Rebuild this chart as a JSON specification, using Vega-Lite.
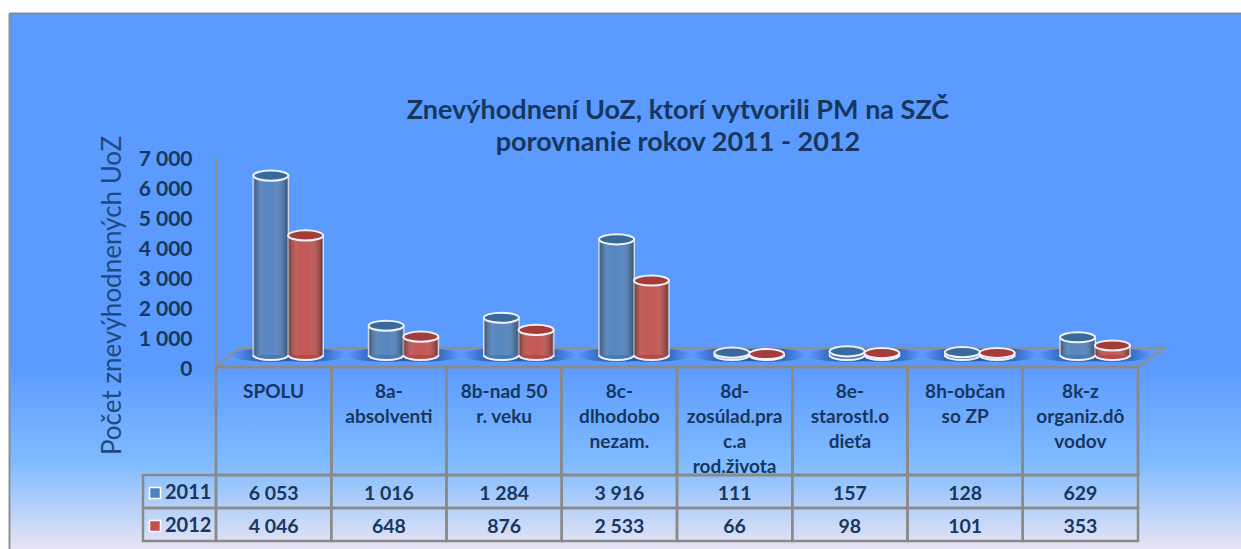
{
"$schema":"https://vega.github.io/schema/vega-lite/v6.json",
"autosize":{"type":"none"},
"padding":{"left":9,"top":13,"right":0,"bottom":0},
"width":1232,"height":536,
"background":"#ffffff",
"config":{
 "locale":{"number":{"decimal":",","thousands":" ","grouping":[3],"currency":["",""]}},
 "view":{"stroke":null,"fill":{"gradient":"linear","x1":0,"y1":0,"x2":0,"y2":1,"stops":[{"offset":0,"color":"#5b9bff"},{"offset":0.66,"color":"#5b9bff"},{"offset":0.84,"color":"#80bbff"},{"offset":1,"color":"#e8e4f4"}]}}
},
"title":{"text":["Znevýhodnení UoZ, ktorí vytvorili PM na SZČ","porovnanie rokov 2011  - 2012"],"font":"Lato","fontSize":27,"fontWeight":"bold","color":"#17375e","anchor":"middle","dx":53,"dy":144,"lineHeight":32,"offset":0},
"datasets":{
"rows":[
{"category":"SPOLU","year":"2011","value":6053},{"category":"SPOLU","year":"2012","value":4046},
{"category":"8a-\nabsolventi","year":"2011","value":1016},{"category":"8a-\nabsolventi","year":"2012","value":648},
{"category":"8b-nad 50\nr. veku","year":"2011","value":1284},{"category":"8b-nad 50\nr. veku","year":"2012","value":876},
{"category":"8c-\ndlhodobo\nnezam.","year":"2011","value":3916},{"category":"8c-\ndlhodobo\nnezam.","year":"2012","value":2533},
{"category":"8d-\nzosúlad.pra\nc.a\nrod.života","year":"2011","value":111},{"category":"8d-\nzosúlad.pra\nc.a\nrod.života","year":"2012","value":66},
{"category":"8e-\nstarostl.o\ndieťa","year":"2011","value":157},{"category":"8e-\nstarostl.o\ndieťa","year":"2012","value":98},
{"category":"8h-občan\nso ZP","year":"2011","value":128},{"category":"8h-občan\nso ZP","year":"2012","value":101},
{"category":"8k-z\norganiz.dô\nvodov","year":"2011","value":629},{"category":"8k-z\norganiz.dô\nvodov","year":"2012","value":353}
],
"floor":[{"pos":0,"back":0,"front":0},{"pos":0.208,"back":633,"front":0},{"pos":8,"back":633,"front":0},{"pos":8.234,"back":633,"front":633}],
"years":[{"year":"2011"},{"year":"2012"}]
},
"layer":[
{"data":{"name":"years"},
 "mark":{"type":"point","opacity":0},
 "encoding":{
  "x":{"datum":0,"type":"quantitative","scale":{"domain":[0,1],"range":[0,1232]},"axis":{"orient":"top","title":null,"labels":false,"ticks":false,"grid":false,"domainColor":"#7a8cae","domainWidth":2}},
  "y":{"datum":0,"type":"quantitative","scale":{"domain":[0,1],"range":[536,0]},"axis":{"orient":"left","title":null,"labels":false,"ticks":false,"grid":false,"domainColor":"#8a8f98","domainWidth":2}}}},
{"data":{"name":"floor"},
 "mark":{"type":"area","fill":"#5b9bff","stroke":"#8a8f98","strokeWidth":2.5},
 "encoding":{
  "x":{"field":"pos","type":"quantitative","scale":{"domain":[0,8],"range":[207,1129]},"axis":null},
  "y":{"field":"back","type":"quantitative","scale":{"domain":[0,7000],"range":[354,144]},
   "axis":{"title":"Počet znevýhodnených UoZ","orient":"left","offset":-207,"values":[0,1000,2000,3000,4000,5000,6000,7000],"format":",d","grid":false,"ticks":false,"labelPadding":24,"labelOffset":2,"labelFont":"Lato","labelFontSize":21,"labelFontWeight":"bold","labelColor":"#17375e","domainColor":"#8a8f98","domainWidth":3,"titleFont":"Lato","titleFontSize":26,"titleFontWeight":"normal","titleColor":"#1f4a80","titleX":-91,"titleY":282}},
  "y2":{"field":"front"}}},
{"data":{"name":"rows"},
 "mark":{"type":"point","filled":true,"shape":"M-1,0A1,0.17 0 1,1 1,0A1,0.17 0 1,1 -1,0Z","size":6400,"opacity":1,"yOffset":-1,"fill":{"gradient":"linear","x1":0,"y1":0,"x2":1,"y2":0,"stops":[{"offset":0,"color":"rgba(35,80,165,0)"},{"offset":0.3,"color":"rgba(35,80,165,0.7)"},{"offset":0.7,"color":"rgba(35,80,165,0.7)"},{"offset":1,"color":"rgba(35,80,165,0)"}]}},
 "encoding":{
  "x":{"field":"category","type":"nominal","sort":null,"scale":{"type":"band","range":[207,1129],"paddingInner":0,"paddingOuter":0},"axis":null},
  "xOffset":{"field":"year","type":"nominal","scale":{"type":"band","range":[37.5,107],"paddingInner":0,"paddingOuter":0}},
  "y":{"datum":0,"type":"quantitative","scale":{"domain":[0,7000],"range":[343,134.4]},"axis":null}}},
{"data":{"name":"rows"},
 "mark":{"type":"bar","stroke":"#e6edf5","strokeWidth":1.8},
 "encoding":{
  "x":{"field":"category","type":"nominal","sort":null,"scale":{"range":[207,1129],"paddingInner":0,"paddingOuter":0},"axis":null},
  "xOffset":{"field":"year","type":"nominal","scale":{"range":[37.5,107],"paddingInner":0,"paddingOuter":0}},
  "y":{"field":"value","type":"quantitative","scale":{"domain":[0,7000],"range":[343,134.4]},"axis":null},
  "color":{"field":"year","type":"nominal","scale":{"domain":["2011","2012"],"range":["#4f81bd","#c0504d"]},
   "legend":{"title":null,"orient":"none","legendX":136,"legendY":470,"symbolType":"square","symbolSize":120,"symbolStrokeColor":"#ffffff","symbolStrokeWidth":1.5,"labelFont":"Lato","labelFontSize":20,"labelFontWeight":"bold","labelColor":"#17375e","rowPadding":13,"labelOffset":0}}}},
{"data":{"name":"rows"},
 "mark":{"type":"bar","fill":{"gradient":"linear","x1":0,"y1":0,"x2":1,"y2":0,"stops":[{"offset":0,"color":"rgba(0,0,0,0.4)"},{"offset":0.3,"color":"rgba(255,255,255,0.06)"},{"offset":0.6,"color":"rgba(255,255,255,0.06)"},{"offset":1,"color":"rgba(0,0,0,0.4)"}]}},
 "encoding":{
  "x":{"field":"category","type":"nominal","sort":null,"scale":{"range":[207,1129],"paddingInner":0,"paddingOuter":0},"axis":null},
  "xOffset":{"field":"year","type":"nominal","scale":{"range":[37.5,107],"paddingInner":0,"paddingOuter":0}},
  "y":{"field":"value","type":"quantitative","scale":{"domain":[0,7000],"range":[343,134.4]},"axis":null}}},
{"data":{"name":"rows"},
 "mark":{"type":"point","filled":true,"shape":"M-1,0A1,0.29 0 0,0 1,0","size":1225,"stroke":"#eef3f8","strokeWidth":2,"opacity":1,"yOffset":-1},
 "encoding":{
  "x":{"field":"category","type":"nominal","sort":null,"scale":{"type":"band","range":[207,1129],"paddingInner":0,"paddingOuter":0},"axis":null},
  "xOffset":{"field":"year","type":"nominal","scale":{"type":"band","range":[37.5,107],"paddingInner":0,"paddingOuter":0}},
  "y":{"datum":0,"type":"quantitative","scale":{"domain":[0,7000],"range":[343,134.4]},"axis":null},
  "color":{"field":"year","type":"nominal","scale":{"domain":["2011","2012"],"range":["#4a7ab3","#b64a47"]},"legend":null}}},
{"data":{"name":"rows"},
 "mark":{"type":"point","filled":true,"shape":"M-1,0A1,0.29 0 1,1 1,0A1,0.29 0 1,1 -1,0Z","size":1225,"stroke":"#eef3f8","strokeWidth":2,"opacity":1},
 "encoding":{
  "x":{"field":"category","type":"nominal","sort":null,"scale":{"type":"band","range":[207,1129],"paddingInner":0,"paddingOuter":0},"axis":null},
  "xOffset":{"field":"year","type":"nominal","scale":{"type":"band","range":[37.5,107],"paddingInner":0,"paddingOuter":0}},
  "y":{"field":"value","type":"quantitative","scale":{"domain":[0,7000],"range":[343,134.4]},"axis":null},
  "color":{"field":"year","type":"nominal","scale":{"domain":["2011","2012"],"range":["#3a6a9c","#a53c39"]},"legend":null}}},
{"data":{"name":"rows"},
 "mark":{"type":"rect","fill":"transparent","stroke":"#8a8a8a","strokeWidth":2.5},
 "encoding":{
  "x":{"field":"category","type":"nominal","sort":null,"scale":{"range":[207,1129],"paddingInner":0,"paddingOuter":0},
   "axis":{"title":null,"orient":"bottom","offset":-182,"domain":false,"ticks":false,"labelExpr":"split(datum.value,'\\n')","labelAngle":0,"labelAlign":"center","labelBaseline":"top","labelPadding":15,"labelOverlap":false,"labelBound":false,"labelFlush":false,"labelFont":"Lato","labelFontSize":19,"labelFontWeight":"bold","labelColor":"#17375e","labelLineHeight":25}},
  "y":{"datum":"kategória","type":"nominal","scale":{"domain":["kategória"],"range":[354,462],"paddingInner":0,"paddingOuter":0},"axis":null}}},
{"data":{"name":"rows"},
 "mark":{"type":"rect","fill":"transparent","stroke":"#8a8a8a","strokeWidth":2.5},
 "encoding":{
  "x":{"field":"category","type":"nominal","sort":null,"scale":{"range":[207,1129],"paddingInner":0,"paddingOuter":0},"axis":null},
  "y":{"field":"year","type":"nominal","scale":{"domain":["2011","2012"],"range":[462,528],"paddingInner":0,"paddingOuter":0},"axis":null}}},
{"data":{"name":"years"},
 "mark":{"type":"rect","fill":"transparent","stroke":"#8a8a8a","strokeWidth":2.5},
 "encoding":{
  "x":{"datum":"legenda","type":"nominal","scale":{"domain":["legenda"],"range":[134,207],"paddingInner":0,"paddingOuter":0},"axis":null},
  "y":{"field":"year","type":"nominal","scale":{"domain":["2011","2012"],"range":[462,528],"paddingInner":0,"paddingOuter":0},"axis":null}}},
{"data":{"name":"rows"},
 "mark":{"type":"text","font":"Lato","fontSize":19.5,"fontWeight":"bold","color":"#17375e","dy":2},
 "encoding":{
  "x":{"field":"category","type":"nominal","sort":null,"scale":{"range":[207,1129],"paddingInner":0,"paddingOuter":0},"axis":null},
  "y":{"field":"year","type":"nominal","scale":{"domain":["2011","2012"],"range":[462,528],"paddingInner":0,"paddingOuter":0},"axis":null},
  "text":{"field":"value","type":"quantitative","format":",d"}}}
],
"resolve":{"scale":{"x":"independent","y":"independent","xOffset":"independent","color":"independent"},"axis":{"x":"independent","y":"independent"}}
}
